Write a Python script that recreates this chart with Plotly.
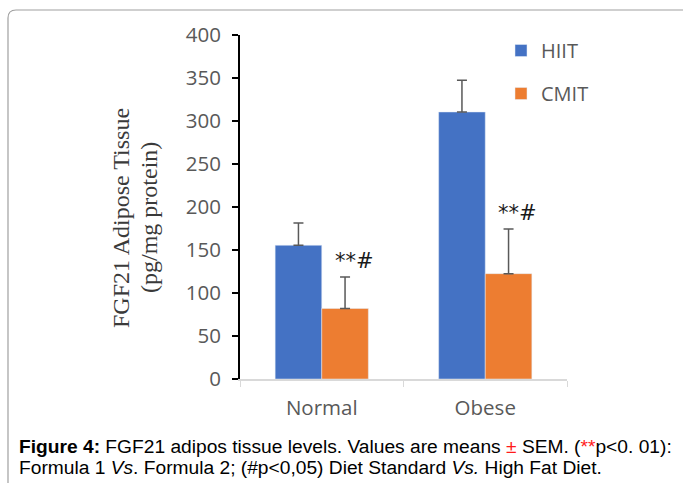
import plotly.graph_objects as go

categories = ["Normal", "Obese"]
hiit_values = [155.5, 310.5]
hiit_sem = [26, 37]
cmit_values = [82, 122.5]
cmit_sem = [36.5, 52]
sig_labels = ["**#", "**#"]

W, H = 683, 483
ML, MR, MT, MB = 240, 116, 35, 104
PW, PH = W - ML - MR, H - MT - MB

def px(x):
    return (x - ML) / PW

def py(y):
    return (H - MB - y) / PH

tick_font = dict(family="Open Sans", size=20.5, color="#595959")

fig = go.Figure()
fig.add_trace(go.Bar(
    x=categories, y=hiit_values, name="HIIT", marker_color="#4472C4",
    legendgroup="a",
    error_y=dict(type="data", array=hiit_sem, arrayminus=[0, 0], symmetric=False,
                 color="#595959", thickness=1.5, width=5),
))
fig.add_trace(go.Bar(
    x=categories, y=cmit_values, name="CMIT", marker_color="#ED7D31",
    legendgroup="b",
    error_y=dict(type="data", array=cmit_sem, arrayminus=[0, 0], symmetric=False,
                 color="#595959", thickness=1.5, width=5),
))

annotations = []
for i, lab in enumerate(sig_labels):
    annotations.append(dict(
        x=i + 0.2, y=cmit_values[i] + cmit_sem[i], xref="x", yref="y",
        text=lab, showarrow=False, yanchor="bottom", yshift=2,
        font=dict(family="DejaVu Sans", size=21, color="#1a1a1a"),
    ))

# y-axis title (two serif lines)
annotations.append(dict(
    x=px(121), y=py(218), xref="paper", yref="paper", text="FGF21 Adipose Tissue",
    textangle=-90, showarrow=False, xanchor="center", yanchor="middle",
    font=dict(family="Liberation Serif", size=24, color="#3a3a3a"),
))
annotations.append(dict(
    x=px(149), y=py(218), xref="paper", yref="paper", text="(pg/mg protein)",
    textangle=-90, showarrow=False, xanchor="center", yanchor="middle",
    font=dict(family="Liberation Serif", size=24, color="#3a3a3a"),
))

# caption
cap_font = dict(family="Liberation Sans", size=19.2, color="#000000")
annotations.append(dict(
    x=px(17), y=py(446), xref="paper", yref="paper", xanchor="left", yanchor="middle",
    showarrow=False, align="left", font=cap_font,
    text="<b>Figure 4:</b> FGF21 adipos tissue levels. Values are means <span style='color:#ff1a1a'>±</span> SEM. (<span style='color:#ff1a1a'>**</span>p&lt;0. 01):",
))
annotations.append(dict(
    x=px(17), y=py(467), xref="paper", yref="paper", xanchor="left", yanchor="middle",
    showarrow=False, align="left", font=cap_font,
    text="Formula 1 <i>Vs</i>. Formula 2; (#p&lt;0,05) Diet Standard <i>Vs.</i> High Fat Diet.",
))

shapes = [dict(
    type="path", xref="paper", yref="paper",
    path=(f"M {px(8)} {py(700)} L {px(8)} {py(18)} Q {px(8)} {py(10)} {px(16)} {py(10)} "
          f"L {px(800)} {py(10)}"),
    line=dict(color="#a0a0a0", width=1.2), layer="below",
)]

fig.update_layout(
    width=W, height=H, margin=dict(l=ML, r=MR, t=MT, b=MB),
    plot_bgcolor="white", paper_bgcolor="white",
    barmode="group", bargap=0.43, bargroupgap=0,
    showlegend=True,
    legend=dict(x=px(501), y=py(31), xanchor="left", yanchor="top",
                font=dict(family="Open Sans", size=20, color="#595959"),
                tracegroupgap=14, bgcolor="rgba(0,0,0,0)"),
    annotations=annotations, shapes=shapes,
    xaxis=dict(type="category", range=[-0.5, 1.5], showline=True, linecolor="#d9d9d9",
               linewidth=1.5, ticks="outside", tickson="boundaries", ticklen=6,
               tickcolor="#d9d9d9", tickfont=tick_font, showgrid=False,
               ticklabelstandoff=10),
    yaxis=dict(range=[0, 400], dtick=50, showline=True, linecolor="black", linewidth=2,
               ticks="outside", ticklen=6, tickcolor="black", tickwidth=2,
               tickfont=tick_font, showgrid=False, zeroline=False, ticklabelstandoff=7),
)

fig.write_html("out.html", config={"displayModeBar": False},
               post_script="document.body.style.margin='0';document.body.style.overflow='hidden';")
